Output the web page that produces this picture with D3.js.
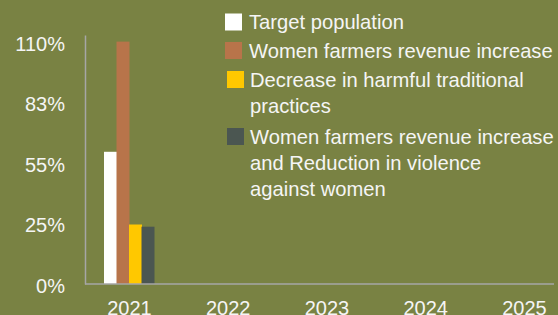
<!DOCTYPE html>
<html>
<head>
<meta charset="utf-8">
<script src="https://cdn.jsdelivr.net/npm/d3@7"></script>
<style>
	html, body { margin: 0; padding: 0; background: #798243; }
	svg { display: block; font-family: "Liberation Sans", Arial, sans-serif; }
</style>
</head>
<body>
<script>
const years = ["2021", "2022", "2023", "2024", "2025"];

const seriesNames = [
	"Target population",
	"Women farmers revenue increase",
	"Decrease in harmful traditional practices",
	"Women farmers revenue increase and Reduction in violence against women"
];

// legend text, split the way the reference wraps it
const legendLines = [
	["Target population"],
	["Women farmers revenue increase"],
	["Decrease in harmful traditional", "practices"],
	["Women farmers revenue increase", "and Reduction in violence", "against women"]
];

const seriesColours = ["#ffffff", "#b8744a", "#ffc800", "#4b5651"];

// values in %, one array per series, one entry per year (null = no data)
const targetPopulation = [60, null, null, null, null];
const revenueIncrease = [110, null, null, null, null];
const harmfulPractices = [27, null, null, null, null];
const revenueAndViolence = [26, null, null, null, null];

const yTickValues = [0, 27.5, 55, 82.5, 110];
const yTickLabels = ["0%", "25%", "55%", "83%", "110%"];

const width = 558, height = 315;
const margin = ({ top: 35, right: 4, bottom: 31, left: 85 });

const series = [targetPopulation, revenueIncrease, harmfulPractices, revenueAndViolence]
	.map((values, i) => ({ name: seriesNames[i], colour: seriesColours[i], lines: legendLines[i], values }));

const x = d3.scalePoint()
	.domain(years)
	.range([129, 524]);

const xInner = d3.scaleBand()
	.domain(seriesNames)
	.range([-25, 25])
	.padding(0);

const y = d3.scaleLinear()
	.domain([0, 113])
	.range([height - margin.bottom, margin.top]);

const svg = d3.select("body").append("svg")
	.attr("width", width)
	.attr("height", height);

// bars
const bars = [];
series.forEach(s => s.values.forEach((v, i) => {
	if (v != null) bars.push({ name: s.name, colour: s.colour, year: years[i], value: v });
}));

svg.append("g")
	.selectAll("rect")
	.data(bars)
	.enter()
	.append("rect")
	.attr("fill", d => d.colour)
	.attr("x", d => x(d.year) + xInner(d.name))
	.attr("width", xInner.bandwidth() + 0.5)
	.attr("y", d => y(d.value))
	.attr("height", d => y(0) - y(d.value));

// axes
const yAxis = g => g
	.attr("transform", `translate(${margin.left},0)`)
	.call(d3.axisLeft(y).tickValues(yTickValues).tickFormat((d, i) => yTickLabels[i]).tickSize(0).tickPadding(20))
	.call(g => g.select(".domain").attr("stroke", "#a6a6a6").attr("stroke-width", 1.5))
	.call(g => g.selectAll("text")
		.attr("fill", "#f5f5f5")
		.attr("font-size", 20)
		.attr("font-family", "\"Liberation Sans\", Arial, sans-serif")
		.attr("dy", "0.42em"));

const xAxis = g => g
	.attr("transform", `translate(0,${height - margin.bottom})`)
	.call(d3.axisBottom(x).tickSize(0).tickPadding(17))
	.call(g => g.select(".domain").remove())
	.call(g => g.selectAll("text")
		.attr("fill", "#f5f5f5")
		.attr("font-size", 20)
		.attr("font-family", "\"Liberation Sans\", Arial, sans-serif"));

svg.append("g").call(xAxis);
svg.append("g").call(yAxis);

svg.append("line")
	.attr("stroke", "#a6a6a6")
	.attr("stroke-width", 1.5)
	.attr("x1", margin.left)
	.attr("x2", width - margin.right)
	.attr("y1", y(0))
	.attr("y2", y(0));

// legend
const legendTop = [22, 50.5, 79.5, 136.5];
const lg = svg.append("g")
	.selectAll("g.legend")
	.data(series)
	.enter()
	.append("g")
	.attr("class", "legend")
	.attr("transform", (d, i) => `translate(${i < 2 ? 225 : 227},${legendTop[i]})`);

lg.append("rect")
	.attr("fill", d => d.colour)
	.attr("x", 0)
	.attr("y", -8.5)
	.attr("width", 17)
	.attr("height", 17);

lg.append("text")
	.attr("fill", "#f5f5f5")
	.attr("font-size", 20.2)
	.selectAll("tspan")
	.data(d => d.lines)
	.enter()
	.append("tspan")
	.attr("x", (d, i, n) => n[i].parentNode.__data__.lines.length > 1 ? 23 : 24)
	.attr("y", (d, i) => i * 26)
	.attr("dy", "0.36em")
	.text(d => d);
</script>
</body>
</html>
